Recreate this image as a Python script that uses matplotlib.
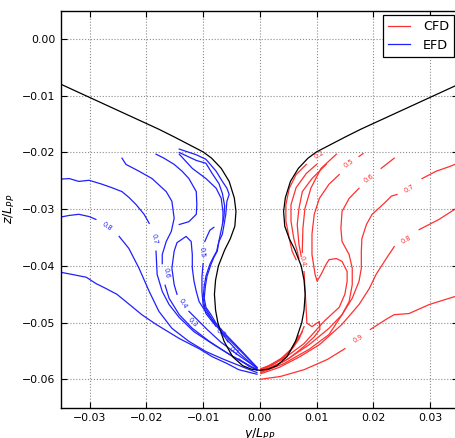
import matplotlib
matplotlib.use("Agg")
import matplotlib.pyplot as plt
import numpy as np

# All coordinates below are (y/L_PP, z/L_PP) in units of 1e-3.

# Hull section, half-breadth from the deck edge down to the keel
hull_half = [(35.0, -8.0), (17.8, -15.9), (15.0, -17.3), (12.5, -18.6), (10.0, -19.9),
             (8.5, -21.0), (6.8, -22.8), (5.4, -25.1), (4.5, -28.0), (4.2, -30.4),
             (4.4, -33.0), (5.2, -35.2), (6.2, -37.2), (7.3, -40.0), (7.8, -42.5),
             (8.0, -45.0), (7.8, -47.8), (7.4, -50.0), (6.3, -53.3), (4.8, -56.0),
             (3.0, -57.6), (1.5, -58.2), (0.0, -58.4)]

# EFD wake contours (port side)
efd_09 = [(-35.2, -41.1), (-33.1, -41.5), (-30.6, -42.0), (-28.9, -43.1), (-27.1, -44.0),
          (-25.2, -45.0), (-23.6, -46.3), (-20.8, -48.6), (-18.3, -50.3), (-14.2, -52.8),
          (-10.7, -54.6), (-8.4, -56.0), (-5.8, -57.2), (-3.7, -58.3), (-0.5, -59.1)]
efd_08a = [(-35.2, -31.4), (-33.6, -31.1), (-31.9, -30.9), (-30.1, -31.3), (-28.9, -31.8)]
efd_08b = [(-24.8, -34.8), (-23.1, -36.9), (-21.3, -40.4), (-19.5, -44.5), (-17.8, -48.0),
           (-15.5, -51.0), (-12.5, -53.3), (-9.5, -55.1), (-6.3, -56.5), (-2.8, -57.9),
           (-0.5, -58.8)]
efd_07a = [(-35.2, -24.7), (-33.6, -24.6), (-31.9, -25.1), (-30.1, -24.9), (-27.8, -25.6),
           (-26.1, -26.2), (-24.3, -26.9), (-23.1, -27.9), (-21.8, -29.2), (-20.4, -30.9),
           (-19.5, -32.5)]
efd_07b = [(-18.3, -37.4), (-18.1, -41.5), (-17.2, -44.5), (-16.0, -46.8), (-14.2, -49.1),
           (-11.6, -51.6), (-8.1, -53.9), (-4.5, -56.1), (-0.5, -58.4)]
efd_06a = [(-24.3, -21.0), (-23.6, -22.1), (-21.3, -23.3), (-19.0, -24.6), (-16.5, -26.9),
           (-15.5, -28.6), (-15.1, -31.6), (-15.6, -33.9), (-16.5, -35.7), (-17.2, -38.0),
           (-17.2, -39.6)]
efd_06b = [(-16.7, -43.4), (-16.0, -45.7), (-14.2, -48.6), (-11.9, -51.0), (-8.9, -53.3),
           (-5.4, -55.6), (-0.5, -58.3)]
efd_055 = [(-18.3, -20.3), (-16.9, -21.0), (-15.1, -22.1), (-13.7, -23.3), (-12.5, -24.6),
           (-11.2, -26.9), (-11.1, -29.2), (-11.2, -30.9), (-12.5, -32.2), (-14.2, -32.7)]
efd_05a = [(-8.1, -33.2), (-8.8, -33.7), (-9.3, -34.8), (-9.7, -35.7)]
efd_05b = [(-10.0, -39.6), (-10.2, -41.9), (-10.2, -44.5), (-10.0, -46.8), (-9.5, -48.4),
           (-8.4, -49.8), (-6.3, -52.1), (-3.7, -54.7), (-0.5, -57.9)]
efd_04a = [(-0.5, -58.0), (-3.7, -55.8), (-6.8, -53.5), (-9.3, -51.2), (-11.1, -49.4),
           (-12.5, -48.0)]
efd_04b = [(-14.6, -45.0), (-15.1, -43.3), (-15.5, -40.4), (-15.1, -37.4), (-14.6, -35.9),
           (-13.0, -34.8), (-12.1, -35.7), (-11.9, -38.0), (-11.9, -40.4), (-11.6, -42.7),
           (-11.2, -44.5), (-10.7, -46.3), (-9.8, -47.7), (-8.1, -49.8), (-5.8, -52.3),
           (-3.1, -55.1), (-0.5, -57.9)]
efd_03 = [(-14.2, -20.3), (-11.9, -22.8), (-9.5, -24.6), (-7.7, -26.3), (-6.8, -28.1),
          (-6.5, -30.4), (-6.5, -32.2)]
efd_02 = [(-14.2, -20.0), (-11.2, -21.4), (-9.5, -21.9), (-8.4, -23.7), (-7.2, -25.5),
          (-6.6, -27.2), (-6.2, -29.4), (-6.3, -31.1), (-6.7, -33.2), (-7.1, -35.1),
          (-7.6, -37.4), (-8.2, -38.5), (-8.8, -39.7), (-9.5, -41.8), (-9.8, -43.6),
          (-10.0, -45.7), (-9.7, -47.3), (-8.9, -48.6), (-7.8, -50.6)]
efd_02b = [(-5.8, -53.0), (-3.5, -55.5), (-0.5, -58.1)]
efd_01 = [(-14.2, -19.4), (-11.2, -20.4), (-9.5, -21.2), (-7.7, -23.3), (-6.6, -25.1),
          (-5.8, -26.3), (-5.4, -27.4), (-5.8, -28.6), (-6.0, -30.9), (-6.3, -32.7),
          (-6.6, -34.4), (-7.2, -35.7), (-7.5, -37.4), (-8.1, -38.5), (-8.6, -39.7),
          (-9.3, -41.8), (-9.6, -43.6), (-9.8, -45.7), (-9.5, -47.3), (-8.6, -48.6),
          (-7.9, -49.8), (-6.8, -51.6), (-5.6, -53.4)]
efd_01b = [(-3.7, -56.4), (-1.9, -57.7), (-0.5, -58.2)]

# CFD wake contours (starboard side)
cfd_09a = [(0.05, -60.0), (3.6, -59.5), (7.8, -58.3), (11.9, -56.5), (15.0, -54.6)]
cfd_09b = [(19.5, -51.2), (22.3, -49.4), (23.7, -48.6), (26.3, -48.4), (29.9, -46.8),
           (34.4, -45.4), (35.2, -45.2)]
cfd_08a = [(0.2, -59.0), (3.4, -57.9), (6.9, -56.1), (10.5, -53.9), (14.5, -50.3),
           (17.5, -46.8), (19.3, -44.0), (20.5, -41.5), (22.3, -38.7), (23.7, -36.6)]
cfd_08b = [(28.1, -33.6), (31.6, -31.8), (34.4, -30.0), (35.2, -29.6)]
cfd_07a = [(0.2, -58.8), (4.3, -57.2), (8.7, -54.7), (12.2, -52.1), (14.5, -48.6),
           (16.3, -45.7), (17.5, -42.7), (17.9, -40.4), (17.9, -37.4), (18.0, -35.2),
           (18.8, -32.7), (19.8, -30.9), (21.9, -29.0), (23.2, -27.7), (24.2, -27.4)]
cfd_07b = [(28.6, -24.6), (31.1, -23.3), (33.4, -22.5), (34.4, -22.1), (35.2, -21.8)]
cfd_06a = [(0.2, -58.6), (4.3, -56.8), (8.7, -53.9), (12.2, -51.0), (14.5, -48.6),
           (15.75, -46.3), (16.3, -43.3), (16.3, -40.4), (15.75, -38.0), (14.5, -35.7),
           (14.3, -33.4), (14.5, -30.4), (15.75, -28.1), (17.5, -26.3)]
cfd_06b = [(21.4, -22.8), (23.7, -21.0)]
cfd_05a = [(0.2, -58.4), (4.3, -56.3), (7.8, -53.7), (11.3, -49.8), (14.0, -47.3),
           (15.0, -45.0), (15.4, -42.7), (15.4, -41.0), (14.5, -39.2), (13.5, -38.7),
           (12.2, -38.9), (11.7, -39.7), (10.8, -41.5), (10.1, -42.7), (9.75, -41.5),
           (9.2, -38.0), (9.2, -34.4), (9.6, -30.9), (10.5, -28.1), (12.2, -25.6),
           (14.0, -23.9)]
cfd_05b = [(17.5, -20.7), (18.2, -20.2)]
cfd_04a = [(13.5, -20.3), (10.8, -22.8), (9.0, -26.3), (7.95, -29.9), (7.6, -33.4),
           (7.5, -36.9), (7.5, -37.6)]
cfd_04b = [(7.8, -41.0), (8.0, -44.5), (8.2, -48.0), (8.3, -50.1), (9.2, -50.7),
           (10.5, -49.8), (10.6, -51.2), (9.6, -52.5), (7.8, -54.2), (5.2, -56.3),
           (2.5, -57.7), (0.2, -58.5)]
cfd_03a = [(11.7, -22.1), (9.2, -24.6), (7.5, -26.9), (6.9, -29.9), (6.6, -32.7),
           (6.9, -36.2), (7.3, -38.3)]
cfd_03b = [(7.8, -50.7), (6.9, -52.9), (5.2, -55.3), (3.1, -56.8), (0.2, -58.3)]
cfd_02a = [(10.0, -22.1), (8.2, -23.7), (6.4, -26.2), (5.5, -29.2), (5.5, -32.1),
           (6.0, -35.2), (6.6, -37.4), (6.9, -38.7)]
cfd_02b = [(7.5, -51.6), (6.0, -54.2), (4.3, -56.1), (2.2, -57.5), (0.2, -58.2)]
cfd_01a = [(8.2, -22.1), (6.4, -23.9), (5.2, -26.3), (4.6, -29.2), (4.6, -32.1),
           (5.2, -35.2), (5.7, -37.4), (6.4, -38.9)]
cfd_01b = [(6.9, -52.3), (5.5, -54.7), (3.8, -56.3), (1.6, -57.6), (0.2, -58.1)]

efd_lines = [efd_09, efd_08a, efd_08b, efd_07a, efd_07b, efd_06a, efd_06b, efd_055,
             efd_05a, efd_05b, efd_04a, efd_04b, efd_03, efd_02, efd_02b, efd_01,
             efd_01b]
cfd_lines = [cfd_09a, cfd_09b, cfd_08a, cfd_08b, cfd_07a, cfd_07b, cfd_06a, cfd_06b,
             cfd_05a, cfd_05b, cfd_04a, cfd_04b, cfd_03a, cfd_03b, cfd_02a, cfd_02b,
             cfd_01a, cfd_01b]

# Inline contour labels: (text, y, z, angle)
efd_labels = [("0.8", -26.9, -33.0, -35), ("0.7", -18.6, -35.2, -80),
              ("0.6", -16.5, -41.3, -80), ("0.5", -10.2, -37.6, -85),
              ("0.4", -13.5, -46.6, -60), ("0.3", -11.9, -50.0, -45),
              ("0.2", -6.8, -51.8, -40), ("0.1", -4.6, -55.0, -35)]
cfd_labels = [("0.2", 10.5, -20.3, 30), ("0.5", 15.75, -21.9, 35),
              ("0.6", 19.3, -24.6, 35), ("0.7", 26.3, -26.3, 30),
              ("0.8", 25.8, -35.3, 30), ("0.9", 17.3, -52.8, 30),
              ("0.4", 7.5, -39.2, -80)]

x_ticks = [-0.03, -0.02, -0.01, 0.00, 0.01, 0.02, 0.03]
z_ticks = [0.00, -0.01, -0.02, -0.03, -0.04, -0.05, -0.06]

S = 1e-3
EFD_C = "#2020ff"
CFD_C = "#ff3030"

fig = plt.figure(figsize=(4.56, 4.38), dpi=100)
ax = fig.add_axes([61.3 / 456, 30.3 / 438, 397.0 / 456, 397.0 / 438])

hb = np.array(hull_half)
hy = np.concatenate([-hb[:, 0], hb[::-1, 0]]) * S
hz = np.concatenate([hb[:, 1], hb[::-1, 1]]) * S
ax.plot(hy, hz, color="k", lw=0.9, zorder=3)

for i, seg in enumerate(cfd_lines):
    a = np.array(seg) * S
    ax.plot(a[:, 0], a[:, 1], color=CFD_C, lw=0.9, label="CFD" if i == 0 else None)
for i, seg in enumerate(efd_lines):
    a = np.array(seg) * S
    ax.plot(a[:, 0], a[:, 1], color=EFD_C, lw=0.9, label="EFD" if i == 0 else None)

for t, y, z, r in efd_labels:
    ax.text(y * S, z * S, t, color=EFD_C, fontsize=4.8, rotation=r,
            ha="center", va="center", rotation_mode="anchor")
for t, y, z, r in cfd_labels:
    ax.text(y * S, z * S, t, color=CFD_C, fontsize=4.8, rotation=r,
            ha="center", va="center", rotation_mode="anchor")

ax.set_xlim(-0.035, 0.035)
ax.set_ylim(-0.065, 0.005)
ax.set_xticks(x_ticks)
ax.set_yticks(z_ticks)
ax.set_xticklabels([("%.2f" % v).replace("-", "\u2212") for v in x_ticks])
ax.set_yticklabels([("%.2f" % v).replace("-", "\u2212") if v != 0 else "0.00"
                    for v in z_ticks])
ax.tick_params(direction="in", top=True, right=True, labelsize=7.8, length=4, pad=4)
ax.grid(True, linestyle=":", color="0.55", lw=0.8)
for sp in ax.spines.values():
    sp.set_linewidth(1.0)

ax.set_xlabel(r"$y/L_{PP}$", fontsize=9, labelpad=2)
ax.set_ylabel(r"$z/L_{PP}$", fontsize=9, labelpad=4)

leg = ax.legend(loc="upper right", bbox_to_anchor=(454 / 456, 1 - 15 / 438),
                bbox_transform=fig.transFigure, borderaxespad=0, fancybox=False,
                framealpha=1, edgecolor="k", fontsize=9.2, handlelength=1.7,
                handletextpad=1.0, borderpad=0.4, labelspacing=0.45)
leg.get_frame().set_linewidth(0.9)

fig.savefig("out.png", dpi=100)
